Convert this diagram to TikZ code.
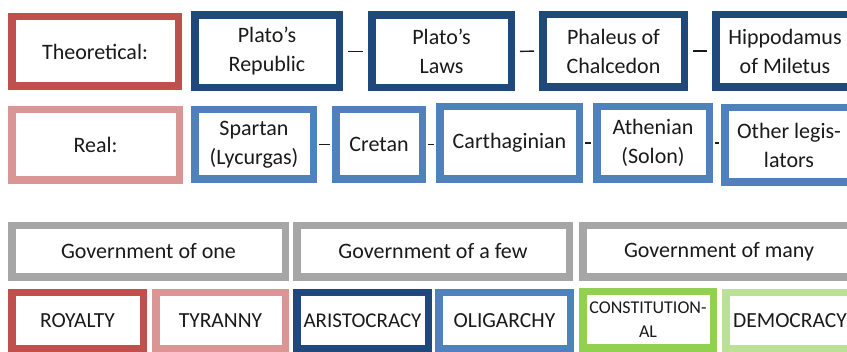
\documentclass[tikz,border=0pt]{standalone}
\usepackage{fontspec}
\setmainfont{Carlito}
\definecolor{cred}{HTML}{C0504D}
\definecolor{cpink}{HTML}{DA9694}
\definecolor{cdblue}{HTML}{1F497D}
\definecolor{cblue}{HTML}{4F81BD}
\definecolor{cgray}{HTML}{A6A6A6}
\definecolor{cgreen}{HTML}{92D050}
\definecolor{clgreen}{HTML}{BBE294}
\definecolor{txtc}{HTML}{1A1A1A}
\tikzset{
  bx/.style={draw=#1, line width=7.5pt, fill=white, inner sep=0pt, align=center,
    text=txtc, font=\fontsize{22}{29}\selectfont},
  link/.style={draw=txtc, line width=1.4pt},
  linka/.style={link, shorten <=5pt, shorten >=5pt},
  linkb/.style={link, shorten <=2pt, shorten >=2pt}
}
\begin{document}
\begin{tikzpicture}[x=1pt,y=-1pt]
\useasboundingbox (0,0) rectangle (847,352);
\clip (0,0) rectangle (847,352);
% row 1
\node[bx=cred, minimum width=166.5pt, minimum height=69.5pt] (theo) at (95,51.5) {Theoretical:};
\node[bx=cdblue, minimum width=144.5pt, minimum height=72.5pt] (rep) at (267,51.5) {Plato’s\\Republic};
\node[bx=cdblue, minimum width=139.5pt, minimum height=72.5pt] (laws) at (441.5,51.5) {Plato’s\\Laws};
\node[bx=cdblue, minimum width=141.5pt, minimum height=72.5pt] (phal) at (613.5,51) {Phaleus of\\Chalcedon};
\node[bx=cdblue, minimum width=138.5pt, minimum height=72.5pt] (hipp) at (785,51) {Hippodamus\\of Miletus};
\draw[linka] (rep.east) -- (laws.west);
\draw[linka] (laws.east) -- (phal.west);
\draw[linka] (phal.east) -- (hipp.west);
% row 2
\node[bx=cpink, minimum width=167.5pt, minimum height=70.5pt] (real) at (95.5,145) {Real:};
\node[bx=cblue, minimum width=118.5pt, minimum height=69.5pt] (spar) at (254,144.5) {Spartan\\(Lycurgas)};
\node[bx=cblue, minimum width=86.5pt, minimum height=69.5pt] (cret) at (379,144.5) {Cretan};
\node[bx=cblue, minimum width=139.5pt, minimum height=72.5pt] (carth) at (509.5,143) {Carthaginian};
\node[bx=cblue, minimum width=112.5pt, minimum height=72.5pt] (athen) at (653,143) {Athenian\\(Solon)};
\node[bx=cblue, minimum width=128.5pt, minimum height=74.5pt] (other) at (789,145) {Other legis-\\lators};
\draw[linkb] (spar.east) -- (spar.east -| cret.west);
\draw[linkb] (cret.east) -- (cret.east -| carth.west);
\draw[linkb] (carth.east) -- (athen.west);
\draw[linkb] (athen.east) -- (athen.east -| other.west);
% row 3
\node[bx=cgray, minimum width=273.5pt, minimum height=51.5pt] (gov1) at (148.5,251.5) {Government of one};
\node[bx=cgray, minimum width=272.5pt, minimum height=51.5pt] (gov2) at (433,251.5) {Government of a few};
\node[bx=cgray, minimum width=272.5pt, minimum height=51.5pt] (gov3) at (719,251.5) {Government of many};
% row 4
\node[bx=cred, minimum width=131.5pt, minimum height=56.5pt, font=\fontsize{21.5}{26}\selectfont] (roy) at (77.5,321) {ROYALTY};
\node[bx=cpink, minimum width=129.5pt, minimum height=56.5pt, font=\fontsize{21.5}{26}\selectfont] (tyr) at (220.5,321) {TYRANNY};
\node[bx=cdblue, minimum width=131.5pt, minimum height=56.5pt, font=\fontsize{21}{26}\selectfont] (ari) at (362.5,321) {ARISTOCRACY};
\node[bx=cblue, minimum width=131.5pt, minimum height=56.5pt, font=\fontsize{21.5}{26}\selectfont] (oli) at (504.5,321) {OLIGARCHY};
\node[bx=cgreen, minimum width=130.5pt, minimum height=56.5pt, font=\fontsize{18}{24}\selectfont] (con) at (648,320) {CONSTITUTION-\\AL};
\node[bx=clgreen, minimum width=128.5pt, minimum height=56.5pt, font=\fontsize{21.5}{26}\selectfont] (dem) at (790,321) {DEMOCRACY};
\end{tikzpicture}
\end{document}
